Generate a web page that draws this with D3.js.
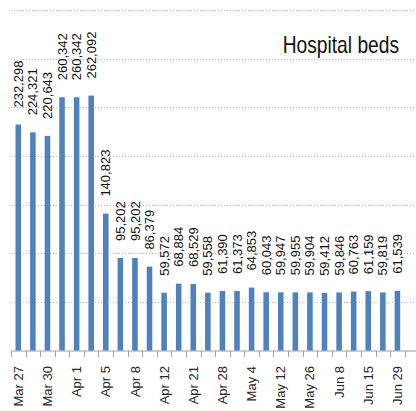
<!DOCTYPE html>
<html><head><meta charset="utf-8">
<script src="https://cdn.jsdelivr.net/npm/d3@7"></script>
<style>body{margin:0;background:#fff}svg{display:block}
.lab{font-family:"Liberation Sans",Arimo,Arial,Helvetica,sans-serif;font-size:13px}
.ttl{font-family:"Liberation Sans Narrow","Arial Narrow","Liberation Sans",Arial,sans-serif;font-size:24px}
</style>
</head><body><svg id="c" width="416" height="411"></svg>
<script>
const tickLabels = ["Mar 27","","Mar 30","","Apr 1","","Apr 5","","Apr 8","","Apr 12","","Apr 21","","Apr 28","","May 4","","May 12","","May 26","","Jun 8","","Jun 15","","Jun 29"];
const values = [232298,224321,220643,260342,260342,262092,140823,95202,95202,86379,59572,68884,68529,59558,61390,61373,64853,60043,59947,59955,59904,59412,59846,60763,61159,59819,61539];
const yTicks = [0,50000,100000,150000,200000,250000,300000,350000];
const title = "Hospital beds";

const svg = d3.select("#c");
const pI = 0.62;
const x = d3.scaleBand().domain(d3.range(values.length)).range([11, 404.7]).paddingInner(pI).paddingOuter(pI/2);
const y = d3.scaleLinear().domain([0, 350000]).range([350.7, 10]);
const step = x.step();

svg.append("g").selectAll("line").data(yTicks.slice(1)).join("line")
  .attr("x1", 11).attr("x2", 416)
  .attr("y1", d => Math.round(y(d)) + 0.5).attr("y2", d => Math.round(y(d)) + 0.5)
  .attr("stroke", "#b8b8b8").attr("stroke-dasharray", "1,2");

svg.append("g").selectAll("rect").data(values).join("rect")
  .attr("x", (d,i) => x(i)).attr("width", x.bandwidth())
  .attr("y", d => y(d)).attr("height", d => y(0) - y(d))
  .attr("fill", "#4f81bd");

svg.append("line").attr("x1", 11).attr("x2", 416).attr("y1", 351).attr("y2", 351)
  .attr("stroke", "#a0a0a0").attr("stroke-width", 1.2);
svg.append("g").selectAll("line").data(d3.range(values.length + 1)).join("line")
  .attr("x1", i => Math.round(x(0) - step*pI/2 + i*step) + 0.5)
  .attr("x2", i => Math.round(x(0) - step*pI/2 + i*step) + 0.5)
  .attr("y1", 351).attr("y2", 357).attr("stroke", "#a0a0a0");

svg.append("g").selectAll("text").data(tickLabels).join("text")
  .attr("class", "lab")
  .attr("transform", (d,i) => `translate(${x(i) + x.bandwidth()/2},366) rotate(-90)`)
  .attr("text-anchor", "end").attr("dy", "0.35em")
  .attr("fill", "#262626")
  .text(d => d);

svg.append("g").selectAll("text").data(values).join("text")
  .attr("class", "lab")
  .attr("transform", (d,i) => `translate(${x(i) + x.bandwidth()/2},${y(d) - 17}) rotate(-90)`)
  .attr("text-anchor", "start").attr("dy", "0.35em")
  .attr("fill", "#111")
  .text(d => d3.format(",")(d));

svg.append("text").attr("class", "ttl")
  .attr("transform", "translate(399,53) scale(0.8,1)")
  .attr("text-anchor", "end")
  .attr("fill", "#111")
  .text(title);
</script></body></html>
